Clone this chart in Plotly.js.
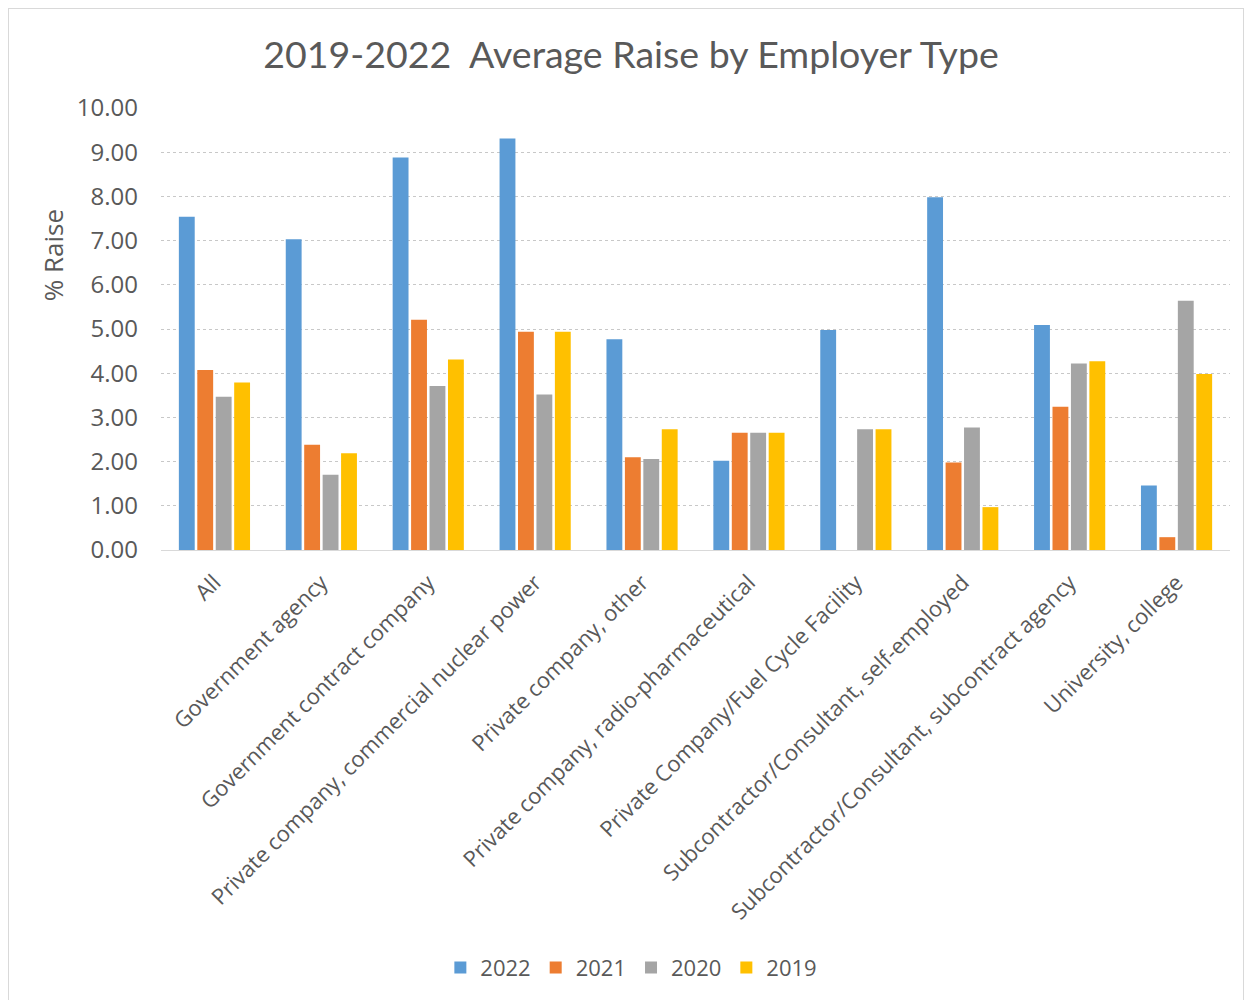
<!DOCTYPE html>
<html>
<head>
<meta charset="utf-8">
<script src="https://cdn.plot.ly/plotly-3.0.1.min.js"></script>
<style>
  body { margin: 0; background: #fff; }
  #wrap { position: relative; width: 1252px; height: 1000px; }
  #chart { width: 1252px; height: 1000px; }
  #frame { position: absolute; left: 8px; top: 8px; width: 1236px; height: 1000px; border: 1px solid #d9d9d9; pointer-events: none; box-sizing: border-box; }
</style>
</head>
<body>
<div id="wrap"><div id="chart"></div><div id="frame"></div></div>
<script>
const categories = [
  "All",
  "Government agency",
  "Government contract company",
  "Private company, commercial nuclear power",
  "Private company, other",
  "Private company, radio-pharmaceutical",
  "Private Company/Fuel Cycle Facility",
  "Subcontractor/Consultant, self-employed",
  "Subcontractor/Consultant, subcontract agency",
  "University, college"
];
const seriesNames = ["2022", "2021", "2020", "2019"];
const raise2022 = [7.54, 7.03, 8.88, 9.31, 4.77, 2.02, 4.98, 7.98, 5.09, 1.46];
const raise2021 = [4.07, 2.38, 5.21, 4.94, 2.10, 2.65, null, 1.98, 3.24, 0.29];
const raise2020 = [3.47, 1.70, 3.71, 3.52, 2.06, 2.65, 2.73, 2.77, 4.22, 5.64];
const raise2019 = [3.79, 2.19, 4.31, 4.94, 2.73, 2.65, 2.73, 0.97, 4.27, 3.98];
const yTickVals = [0,1,2,3,4,5,6,7,8,9,10];
const yTickText = ["0.00","1.00","2.00","3.00","4.00","5.00","6.00","7.00","8.00","9.00","10.00"];
const colors = ["#5B9BD5", "#ED7D31", "#A5A5A5", "#FFC000"];

const allValues = [raise2022, raise2021, raise2020, raise2019];
const traces = allValues.map((vals, i) => ({
  type: "bar",
  name: seriesNames[i],
  x: categories,
  y: vals,
  marker: { color: colors[i] },
  hoverinfo: "x+y+name"
}));

const txt = "#595959";
const layout = {
  width: 1252,
  height: 1000,
  paper_bgcolor: "#ffffff",
  plot_bgcolor: "#ffffff",
  margin: { l: 161, r: 22, t: 108, b: 450 },
  barmode: "group",
  bargap: 0.31,
  bargroupgap: 0.14,
  font: { family: "Open Sans, sans-serif", color: txt, size: 22 },
  title: {
    text: "2019-2022  Average Raise by Employer Type",
    font: { family: "Lato, sans-serif", size: 37.5, color: txt },
    x: 0.504, xanchor: "center",
    y: 0.945, yref: "container", yanchor: "middle"
  },
  xaxis: {
    type: "category",
    tickangle: -45,
    tickfont: { family: "Open Sans, sans-serif", size: 22, color: txt },
    showline: true,
    linecolor: "#d9d9d9",
    linewidth: 1,
    ticks: "",
    ticklabelstandoff: 10,
    automargin: false,
    fixedrange: true
  },
  yaxis: {
    range: [0, 10],
    tickvals: yTickVals,
    ticktext: yTickText,
    tickfont: { family: "Open Sans, sans-serif", size: 24, color: txt },
    showgrid: true,
    gridcolor: "#c8c8c8",
    griddash: "dot",
    gridwidth: 1,
    zeroline: false,
    showline: false,
    ticks: "",
    ticklabelstandoff: 22,
    automargin: false
  },
  annotations: [{
    text: "% Raise",
    xref: "paper", yref: "paper",
    x: 0, y: 0.667,
    xanchor: "center", yanchor: "middle",
    xshift: -108,
    textangle: -90,
    showarrow: false,
    font: { family: "Open Sans, sans-serif", size: 26, color: txt }
  }],
  legend: {
    orientation: "h",
    x: 0.44, xanchor: "center",
    y: -0.945, yanchor: "middle",
    font: { family: "Open Sans, sans-serif", size: 22, color: txt },
    itemwidth: 30,
    traceorder: "normal"
  },
  showlegend: true
};

Plotly.newPlot("chart", traces, layout, { displayModeBar: false, staticPlot: true });
</script>
</body>
</html>
